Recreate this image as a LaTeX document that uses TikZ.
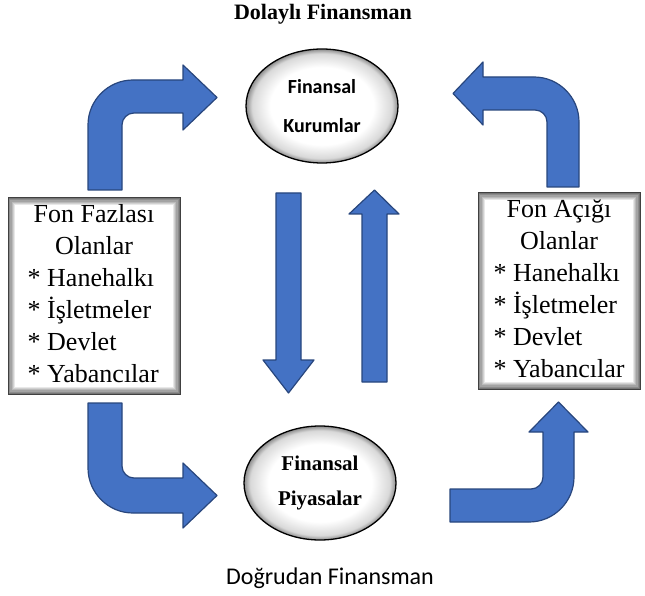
\documentclass[tikz,border=0pt]{standalone}
\usepackage{fontspec}
\setmainfont{Liberation Serif}
\newfontfamily\calibrifont{Carlito}
\usetikzlibrary{shapes.geometric, calc}
\definecolor{okblue}{RGB}{68, 114, 196}
\definecolor{okedge}{RGB}{40, 70, 125}
\pgfdeclareradialshading{ellglow}{\pgfpointorigin}{color(0bp)=(white); color(17bp)=(white); color(23bp)=(black!15); color(25bp)=(black!45); color(50bp)=(black!45)}

\begin{document}
\begin{tikzpicture}[x=1pt, y=-1pt,
  blok/.style={fill=okblue, draw=okedge, line width=1.2pt, line join=round},
  yuvarlak/.style={ellipse, draw, line width=1.3pt, shading=ellglow, minimum width=152pt, minimum height=114pt, inner sep=0pt, align=center},
  kutu/.style={draw=black!75, line width=1pt, fill=white, minimum height=196pt, inner sep=0pt, font=\fontsize{26}{32}\selectfont,
    path picture={\foreach \i [evaluate=\i as \c using int(54-9*\i)] in {0,...,5}
      \draw[black!\c, line width=1.2pt] ([shift={(\i*1.2+0.6,\i*1.2+0.6)}]path picture bounding box.north west) rectangle ([shift={(-\i*1.2-0.6,-\i*1.2-0.6)}]path picture bounding box.south east);}}]
\useasboundingbox (0,0) rectangle (645,596);

\node[font=\bfseries\fontsize{22}{25}\selectfont] (ust) at (323,14) {Dolaylı Finansman};
\node[font=\calibrifont\fontsize{24}{28}\selectfont] (alt) at (330,578) {Doğrudan Finansman};

\node[yuvarlak, font=\calibrifont\bfseries\fontsize{20}{39}\selectfont] (kurum) at (322,106) {Finansal\\Kurumlar};
\node[yuvarlak, font=\bfseries\fontsize{21}{35}\selectfont] (piyasa) at (320,483) {Finansal\\Piyasalar};

\node[kutu, minimum width=172pt] (fazla) at (94,296) {\begin{tabular}{@{}l@{}}
  \multicolumn{1}{c}{Fon Fazlası}\\ \multicolumn{1}{c}{Olanlar}\\
  {*} Hanehalkı\\ {*} İşletmeler\\ {*} Devlet\\ {*} Yabancılar\end{tabular}};
\node[kutu, minimum width=162pt] (acik) at (559,291) {\begin{tabular}{@{}l@{}}
  \multicolumn{1}{c}{Fon Açığı}\\ \multicolumn{1}{c}{Olanlar}\\
  {*} Hanehalkı\\ {*} İşletmeler\\ {*} Devlet\\ {*} Yabancılar\end{tabular}};

% fazla -> kurum
\draw[blok] (88,190) -- (88,125) .. controls (88,100.2) and (108.2,80) .. (133,80) -- (183,80)
  -- (183,65) -- (217,97.5) -- (183,130) -- (183,113) -- (134,113)
  .. controls (127.4,113) and (122,118.4) .. (122,125) -- (122,190) -- cycle;
% acik -> kurum
\draw[blok] (579,187) -- (579,122) .. controls (579,97.2) and (558.8,77) .. (534,77) -- (483,77)
  -- (483,62) -- (453,93.5) -- (483,125) -- (483,110) -- (535,110)
  .. controls (541.6,110) and (547,115.4) .. (547,122) -- (547,187) -- cycle;
% fazla -> piyasa
\draw[blok] (88,403) -- (88,468) .. controls (88,492.8) and (108.2,513) .. (133,513) -- (183,513)
  -- (183,528) -- (217,495.5) -- (183,463) -- (183,478) -- (134,478)
  .. controls (127.4,478) and (122,472.6) .. (122,466) -- (122,403) -- cycle;
% piyasa -> acik
\draw[blok] (450,522) -- (529,522) .. controls (553.8,522) and (574,501.8) .. (574,477) -- (574,432)
  -- (588,432) -- (558.5,402) -- (529,432) -- (543,432) -- (543,477)
  .. controls (543,483.6) and (537.6,489) .. (531,489) -- (450,489) -- cycle;
% kurum <-> piyasa
\draw[blok] (276,193) -- (301,193) -- (301,360) -- (314,360) -- (288.5,393) -- (263,360) -- (276,360) -- cycle;
\draw[blok] (362,382) -- (387,382) -- (387,214) -- (399,214) -- (374.5,190) -- (349,214) -- (362,214) -- cycle;
\end{tikzpicture}
\end{document}
